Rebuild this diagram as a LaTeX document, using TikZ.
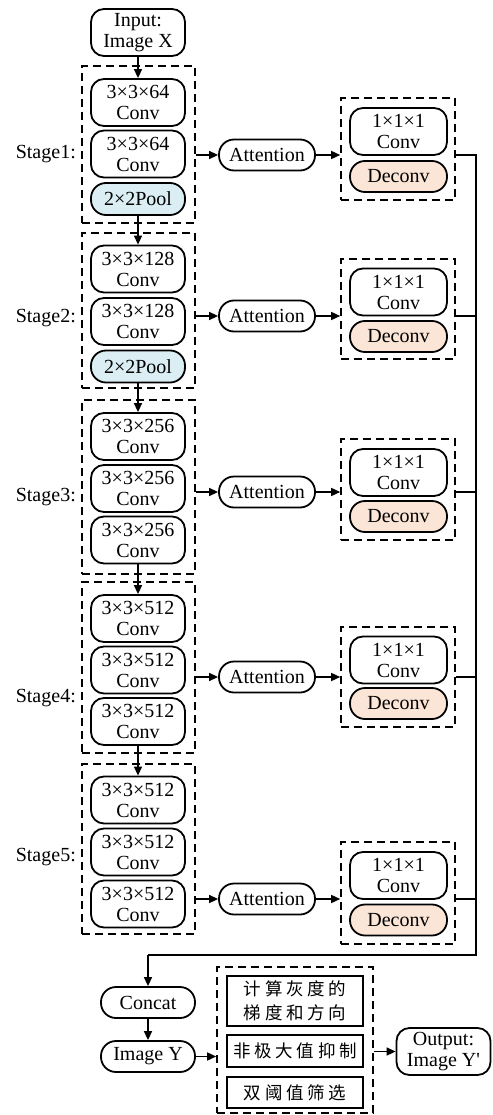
\documentclass[tikz,border=0pt]{standalone}
\usepackage{fontspec}
\setmainfont{Liberation Serif}
\newfontfamily\cjk{Noto Sans CJK SC}
\usetikzlibrary{arrows.meta}
\definecolor{poolblue}{HTML}{DAEEF3}
\definecolor{deconvpeach}{HTML}{FBE5D6}
\newcommand{\cgap}{\hspace{3.7pt}}
\begin{document}
\begin{tikzpicture}[x=1pt,y=-1pt,
  rbox/.style={draw, line width=1.8pt, rounded corners=13pt, align=center, inner sep=0pt,
    font=\fontsize{20}{21}\selectfont},
  convbox/.style={rbox, minimum width=94pt, minimum height=47pt},
  poolbox/.style={rbox, fill=poolblue, rounded corners=15pt, minimum width=94pt, minimum height=32pt},
  attbox/.style={rbox, rounded corners=15pt, minimum width=96pt, minimum height=31pt},
  smallconv/.style={rbox, minimum width=97pt, minimum height=47pt},
  deconvbox/.style={rbox, fill=deconvpeach, rounded corners=15pt, minimum width=97pt, minimum height=31pt},
  capbox/.style={rbox, rounded corners=15pt, minimum width=94pt, minimum height=31pt},
  dbox/.style={draw, dash pattern=on 8pt off 5pt, line width=1.6pt, inner sep=0pt},
  cnbox/.style={draw, line width=1.8pt, inner sep=0pt, minimum width=136pt, align=center,
    font=\cjk\fontsize{17.5}{24}\selectfont},
  lbl/.style={anchor=east, inner sep=0pt, font=\fontsize{20}{21}\selectfont},
  arr/.style={-{Triangle[length=9pt,width=8pt]}, line width=1.5pt},
  ln/.style={line width=1.5pt}
]
\useasboundingbox (0,0) rectangle (492,1115);

% input
\node[convbox] (in) at (138,32.5) {Input:\\Image X};

% stage boxes
\node[dbox, minimum width=113pt, minimum height=157pt] (s1) at (138.5,144.5) {};
\node[dbox, minimum width=113pt, minimum height=155pt] (s2) at (138.5,310.5) {};
\node[dbox, minimum width=113pt, minimum height=174pt] (s3) at (138.5,487) {};
\node[dbox, minimum width=113pt, minimum height=171pt] (s4) at (138.5,667.5) {};
\node[dbox, minimum width=113pt, minimum height=170pt] (s5) at (138.5,849) {};

\node[lbl] (l1) at (76,154) {Stage1:};
\node[lbl] (l2) at (76,318) {Stage2:};
\node[lbl] (l3) at (76,497) {Stage3:};
\node[lbl] (l4) at (76,698) {Stage4:};
\node[lbl] (l5) at (76,857) {Stage5:};

% stage 1
\node[convbox] (c11) at (138,102.5) {3×3×64\\Conv};
\node[convbox] (c12) at (138,154) {3×3×64\\Conv};
\node[poolbox] (p1) at (138,199) {2×2Pool};
% stage 2
\node[convbox] (c21) at (138,269) {3×3×128\\Conv};
\node[convbox] (c22) at (138,321.5) {3×3×128\\Conv};
\node[poolbox] (p2) at (138,366.5) {2×2Pool};
% stage 3
\node[convbox] (c31) at (138,436.5) {3×3×256\\Conv};
\node[convbox] (c32) at (138,488.5) {3×3×256\\Conv};
\node[convbox] (c33) at (138,540) {3×3×256\\Conv};
% stage 4
\node[convbox] (c41) at (138,618.5) {3×3×512\\Conv};
\node[convbox] (c42) at (138,670) {3×3×512\\Conv};
\node[convbox] (c43) at (138,721.5) {3×3×512\\Conv};
% stage 5
\node[convbox] (c51) at (138,800) {3×3×512\\Conv};
\node[convbox] (c52) at (138,852) {3×3×512\\Conv};
\node[convbox] (c53) at (138,904) {3×3×512\\Conv};

% attention
\node[attbox] (a1) at (267,155) {Attention};
\node[attbox] (a2) at (267,316) {Attention};
\node[attbox] (a3) at (267,492) {Attention};
\node[attbox] (a4) at (267,677) {Attention};
\node[attbox] (a5) at (267,899) {Attention};

% right boxes
\node[dbox, minimum width=114pt, minimum height=102pt] (r1) at (398,149) {};
\node[dbox, minimum width=114pt, minimum height=100pt] (r2) at (398,309) {};
\node[dbox, minimum width=114pt, minimum height=101pt] (r3) at (398,489.5) {};
\node[dbox, minimum width=114pt, minimum height=100pt] (r4) at (398,677) {};
\node[dbox, minimum width=114pt, minimum height=102pt] (r5) at (398,893) {};

\node[smallconv] (k1) at (398.5,131.5) {1×1×1\\Conv};
\node[deconvbox] (d1) at (398.5,176.5) {Deconv};
\node[smallconv] (k2) at (398.5,292) {1×1×1\\Conv};
\node[deconvbox] (d2) at (398.5,336.5) {Deconv};
\node[smallconv] (k3) at (398.5,472.5) {1×1×1\\Conv};
\node[deconvbox] (d3) at (398.5,516.5) {Deconv};
\node[smallconv] (k4) at (398.5,660) {1×1×1\\Conv};
\node[deconvbox] (d4) at (398.5,703.5) {Deconv};
\node[smallconv] (k5) at (398.5,875.5) {1×1×1\\Conv};
\node[deconvbox] (d5) at (398.5,920) {Deconv};

% bottom
\node[capbox] (cat) at (148,1002.5) {Concat};
\node[capbox] (imy) at (148,1056.5) {Image Y};
\node[dbox, minimum width=156pt, minimum height=146pt] (pp) at (295,1040) {};
\node[cnbox, minimum height=50pt] (b1) at (295,1001) {计\cgap 算\cgap 灰\cgap 度\cgap 的\\梯\cgap 度\cgap 和\cgap 方\cgap 向};
\node[cnbox, minimum height=32pt] (b2) at (295,1051) {非\cgap 极\cgap 大\cgap 值\cgap 抑\cgap 制};
\node[cnbox, minimum height=31pt] (b3) at (295,1092.5) {双\cgap 阈\cgap 值\cgap 筛\cgap 选};
\node[convbox] (out) at (443.5,1051.5) {Output:\\Image Y\textquotesingle};

\coordinate (bus) at (476,955);

% vertical flow
\draw[arr] (in.south) -- (c11.north);
\draw[arr] (p1.south) -- (c21.north);
\draw[arr] (p2.south) -- (c31.north);
\draw[arr] (c33.south) -- (c41.north);
\draw[arr] (c43.south) -- (c51.north);

% to attention and right boxes
\foreach \i in {1,...,5}{
  \draw[arr] (s\i.east |- a\i) -- (a\i.west);
  \draw[arr] (a\i.east) -- (r\i.west |- a\i);
}
\draw[ln] (r1.east |- a1) -- (bus |- a1) -- (bus) -- (cat.north |- bus);
\draw[arr] (cat.north |- bus) -- (cat.north);
\foreach \i in {2,...,5}{
  \draw[ln] (r\i.east |- a\i) -- (bus |- a\i);
}
\draw[arr] (cat.south) -- (imy.north);
\draw[arr] (imy.east) -- (pp.west |- imy);
\draw[arr] (pp.east |- out) -- (out.west);
\end{tikzpicture}
\end{document}
